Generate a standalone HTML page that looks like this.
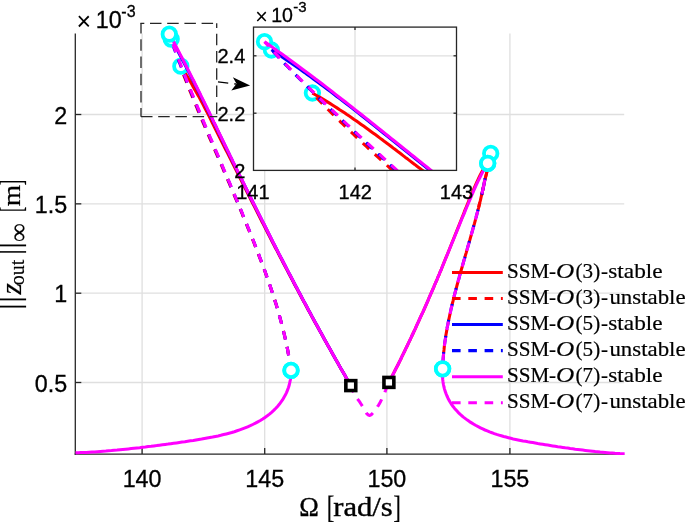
<!DOCTYPE html>
<html><head><meta charset="utf-8"><title>SSM forced response curve</title>
<style>html,body{margin:0;padding:0;background:#fff;}svg{display:block;}text{font-family:"Liberation Sans",sans-serif;fill:#000;}.tk{stroke:#000;stroke-width:0.3px;}.tx{font-family:"Liberation Serif",serif;fill:#000;stroke:#000;stroke-width:0.2px;}.tb{stroke-width:0.35px;}</style></head><body>
<svg width="685" height="522" viewBox="0 0 685 522">
<rect width="685" height="522" fill="#fff"/>
<g stroke="#dfdfdf" stroke-width="1.3" fill="none">
<line x1="142.1" y1="33.6" x2="142.1" y2="454.1"/>
<line x1="264.7" y1="33.6" x2="264.7" y2="454.1"/>
<line x1="386.9" y1="33.6" x2="386.9" y2="454.1"/>
<line x1="509.9" y1="33.6" x2="509.9" y2="454.1"/>
<line x1="75.3" y1="114.5" x2="624.2" y2="114.5"/>
<line x1="75.3" y1="203.85" x2="624.2" y2="203.85"/>
<line x1="75.3" y1="293.2" x2="624.2" y2="293.2"/>
<line x1="75.3" y1="382.5" x2="624.2" y2="382.5"/>
</g>
<g stroke="#262626" stroke-width="1.3" fill="none">
<line x1="75.3" y1="33.6" x2="75.3" y2="454.75"/><line x1="74.64999999999999" y1="454.1" x2="624.2" y2="454.1"/>
<line x1="142.1" y1="454.1" x2="142.1" y2="448.1"/>
<line x1="264.7" y1="454.1" x2="264.7" y2="448.1"/>
<line x1="386.9" y1="454.1" x2="386.9" y2="448.1"/>
<line x1="509.9" y1="454.1" x2="509.9" y2="448.1"/>
<line x1="75.3" y1="114.5" x2="81.3" y2="114.5"/>
<line x1="75.3" y1="203.85" x2="81.3" y2="203.85"/>
<line x1="75.3" y1="293.2" x2="81.3" y2="293.2"/>
<line x1="75.3" y1="382.5" x2="81.3" y2="382.5"/>
</g>
<clipPath id="cm"><rect x="75.3" y="19.6" width="549.9000000000001" height="435.3"/></clipPath>
<g clip-path="url(#cm)">
<polyline points="180.8,65.8 180.8,67.7 181.9,70.5 183.0,73.3 184.1,76.1 185.2,78.9 186.3,81.7 187.4,84.5 188.5,87.3 189.6,90.1 190.8,92.9 191.9,95.7 193.0,98.5 194.2,101.3 195.3,104.1 196.5,106.8 197.6,109.6 198.8,112.4 199.9,115.2 201.1,118.0 202.3,120.8 203.5,123.6 204.7,126.3 205.9,129.1 207.0,131.9 208.2,134.7 209.4,137.5 210.6,140.2 211.8,143.0 213.0,145.8 214.2,148.6 215.4,151.3 216.6,154.1 217.8,156.9 219.0,159.7 220.2,162.4 221.4,165.2 222.6,168.0 223.8,170.8 225.0,173.6 226.2,176.3 227.4,179.1 228.6,181.9 229.8,184.7 231.0,187.5 232.1,190.2 233.3,193.0 234.5,195.8 235.7,198.6 236.9,201.4 238.0,204.2 239.2,206.9 240.4,209.7 241.6,212.5 242.7,215.3 243.9,218.1 245.0,220.9 246.2,223.7 247.3,226.5 248.5,229.3 249.6,232.1 250.7,234.9 251.9,237.7 253.0,240.5 254.1,243.3 255.2,246.2 256.3,249.0 257.4,251.8 258.5,254.6 259.6,257.4 260.7,260.3 261.8,263.1 262.9,265.9 263.9,268.8 265.0,271.6 266.0,274.4 267.0,277.3 268.0,280.1 269.0,283.0 270.0,285.8 271.0,288.7 272.0,291.6 272.9,294.4 273.9,297.3 274.8,300.2 275.7,303.0 276.6,305.9 277.4,308.8 278.3,311.7 279.1,314.6 279.9,317.5 280.7,320.4 281.5,323.3 282.2,326.2 283.0,329.1 283.7,332.0 284.4,334.9 285.1,337.9 285.7,340.8 286.4,343.7 287.0,346.7 287.6,349.6 288.1,352.6 288.7,355.5 289.2,358.5 289.7,361.5 290.1,364.4 290.6,367.4 291.0,370.4" fill="none" stroke="#ff0000" stroke-width="3.05" stroke-linejoin="round" stroke-dasharray="8.6 7.6" stroke-dashoffset="6.85"/>
<polyline points="180.8,65.8 183.1,69.2 184.8,72.1 186.5,75.1 188.3,78.1 190.0,81.0 191.7,84.0 193.3,87.0 195.0,90.0 196.7,92.9 198.4,95.9 200.0,98.9 201.6,101.9 203.2,104.9 204.7,107.8 206.3,110.8 207.9,113.8 209.4,116.8 210.9,119.8 212.3,122.8 213.8,125.7 215.3,128.7 216.8,131.7 218.3,134.7 219.8,137.7 221.3,140.7 222.8,143.7 224.3,146.7 225.8,149.7 227.3,152.6 228.8,155.6 230.3,158.6 231.8,161.6 233.3,164.6 234.8,167.6 236.3,170.6 237.8,173.6 239.3,176.6 240.8,179.5 242.3,182.5 243.8,185.5 245.3,188.5 246.8,191.5 248.3,194.5 249.8,197.5 251.3,200.5 252.8,203.5 254.3,206.4 255.8,209.4 257.3,212.4 258.8,215.4 260.3,218.4 261.8,221.4 263.4,224.3 264.9,227.3 266.4,230.3 267.9,233.3 269.5,236.3 271.0,239.2 272.5,242.2 274.1,245.2 275.6,248.2 277.2,251.1 278.7,254.1 280.2,257.1 281.8,260.0 283.3,263.0 284.9,266.0 286.4,268.9 288.0,271.9 289.5,274.8 291.1,277.8 292.7,280.8 294.2,283.7 295.8,286.7 297.4,289.6 298.9,292.6 300.5,295.5 302.1,298.5 303.7,301.4 305.3,304.3 306.8,307.3 308.4,310.2 310.0,313.1 311.6,316.1 313.2,319.0 314.8,321.9 316.4,324.8 318.1,327.8 319.7,330.7 321.3,333.6 322.9,336.5 324.5,339.4 326.1,342.3 327.7,345.2 329.4,348.1 331.0,351.0 332.6,353.9 334.2,356.8 335.9,359.7 337.5,362.6 339.2,365.5 340.8,368.4 342.5,371.3 344.1,374.1 345.8,377.0 347.4,379.9 349.1,382.7 350.8,385.6" fill="none" stroke="#ff0000" stroke-width="3.05" stroke-linejoin="round"/>
<polyline points="388.9,382.4 390.1,380.0 391.4,377.7 392.6,375.3 393.8,372.9 395.0,370.5 396.2,368.1 397.5,365.7 398.7,363.3 399.9,360.9 401.1,358.5 402.2,356.0 403.4,353.6 404.6,351.2 405.8,348.7 407.0,346.3 408.1,343.9 409.3,341.4 410.5,339.0 411.6,336.5 412.8,334.0 413.9,331.6 415.1,329.1 416.2,326.6 417.3,324.2 418.5,321.7 419.6,319.2 420.7,316.7 421.8,314.3 423.0,311.8 424.1,309.3 425.2,306.8 426.3,304.3 427.4,301.8 428.5,299.3 429.5,296.8 430.6,294.3 431.7,291.8 432.8,289.3 433.9,286.8 434.9,284.3 436.0,281.8 437.1,279.3 438.1,276.8 439.2,274.3 440.2,271.8 441.3,269.3 442.3,266.8 443.3,264.3 444.3,261.7 445.3,259.2 446.4,256.7 447.4,254.2 448.4,251.7 449.4,249.2 450.4,246.7 451.4,244.2 452.4,241.7 453.4,239.2 454.4,236.7 455.4,234.2 456.4,231.8 457.4,229.3 458.4,226.8 459.4,224.3 460.4,221.8 461.4,219.3 462.4,216.8 463.4,214.4 464.3,211.9 465.3,209.4 466.3,207.0 467.3,204.5 468.3,202.0 469.3,199.6 470.4,197.1 471.4,194.7 472.4,192.3 473.4,189.8 474.5,187.4 475.6,184.9 476.7,182.5 477.8,180.1 478.9,177.7 480.1,175.3 481.3,172.9 482.6,170.5 488.0,160.5 490.7,153.4" fill="none" stroke="#ff0000" stroke-width="3.05" stroke-linejoin="round"/>
<polyline points="490.7,153.4 489.0,162.0 487.0,171.5 484.4,181.9 484.0,184.3 483.5,186.6 483.0,188.9 482.5,191.2 482.0,193.5 481.4,195.8 480.9,198.1 480.4,200.4 479.8,202.7 479.2,205.0 478.7,207.3" fill="none" stroke="#ff0000" stroke-width="3.05" stroke-linejoin="round"/>
<polyline points="490.7,153.4 489.0,162.0 487.0,171.5 484.4,181.9 484.0,184.3 483.5,186.6 483.0,188.9 482.5,191.2 482.0,193.5 481.4,195.8 480.9,198.1 480.4,200.4 479.8,202.7 479.2,205.0 478.7,207.3 478.1,209.6 477.5,211.9 476.9,214.2 476.3,216.5 475.7,218.8 475.1,221.1 474.5,223.4 473.8,225.7 473.2,227.9 472.6,230.2 471.9,232.5 471.3,234.8 470.6,237.1 470.0,239.4 469.3,241.7 468.7,243.9 468.0,246.2 467.4,248.5 466.7,250.8 466.1,253.1 465.4,255.3 464.8,257.6 464.1,259.9 463.5,262.2 462.8,264.5 462.2,266.8 461.5,269.0 460.9,271.3 460.2,273.6 459.6,275.9 459.0,278.2 458.3,280.5 457.7,282.8 457.1,285.0 456.5,287.3 455.9,289.6 455.3,291.9 454.7,294.2 454.1,296.5 453.5,298.8 453.0,301.1 452.4,303.4 451.9,305.7 451.3,308.0 450.8,310.3 450.3,312.6 449.8,314.9 449.3,317.2 448.8,319.6 448.3,321.9 447.9,324.2 447.4,326.5 447.0,328.8 446.6,331.2 446.2,333.5 445.8,335.8 445.5,338.2 445.1,340.5 444.8,342.8 444.5,345.2 444.2,347.5 444.0,349.9 443.7,352.2 443.5,354.6 443.3,356.9 443.1,359.3 442.9,361.7 442.8,364.0 442.7,366.4 442.6,368.8" fill="none" stroke="#ff0000" stroke-width="3.05" stroke-linejoin="round" stroke-dasharray="8.6 7.7" stroke-dashoffset="14.8"/>
<circle cx="291.0" cy="370.4" r="6.75" fill="#fff" stroke="#00ffff" stroke-width="3.8"/>
<circle cx="180.83" cy="66.2" r="6.75" fill="#fff" stroke="#00ffff" stroke-width="3.8"/>
<circle cx="490.7" cy="153.4" r="6.75" fill="#fff" stroke="#00ffff" stroke-width="3.8"/>
<circle cx="442.6" cy="368.8" r="6.75" fill="#fff" stroke="#00ffff" stroke-width="3.8"/>
<polyline points="170.9,38.8 171.8,42.2 172.9,45.1 173.9,47.9 175.0,50.7 176.0,53.6 177.1,56.4 178.1,59.2 179.2,62.0 180.3,64.8 181.4,67.7 182.5,70.5 183.6,73.3 184.7,76.1 185.8,78.9 186.9,81.7 188.0,84.5 189.1,87.3 190.3,90.1 191.4,92.9 192.5,95.7 193.7,98.5 194.8,101.3 196.0,104.1 197.1,106.8 198.3,109.6 199.4,112.4 200.6,115.2 201.8,118.0 202.9,120.8 204.1,123.6 205.3,126.3 206.5,129.1 207.6,131.9 208.8,134.7 210.0,137.5 211.2,140.2 212.4,143.0 213.6,145.8 214.7,148.6 215.9,151.3 217.1,154.1 218.3,156.9 219.5,159.7 220.7,162.4 221.9,165.2 223.1,168.0 224.2,170.8 225.4,173.6 226.6,176.3 227.8,179.1 229.0,181.9 230.2,184.7 231.3,187.5 232.5,190.2 233.7,193.0 234.9,195.8 236.1,198.6 237.2,201.4 238.4,204.2 239.6,206.9 240.7,209.7 241.9,212.5 243.0,215.3 244.2,218.1 245.3,220.9 246.5,223.7 247.6,226.5 248.8,229.3 249.9,232.1 251.0,234.9 252.1,237.7 253.3,240.5 254.4,243.3 255.5,246.2 256.6,249.0 257.7,251.8 258.8,254.6 259.8,257.4 260.9,260.3 262.0,263.1 263.0,265.9 264.1,268.8 265.1,271.6 266.1,274.4 267.1,277.3 268.1,280.1 269.1,283.0 270.1,285.8 271.1,288.7 272.0,291.6 273.0,294.4 273.9,297.3 274.8,300.2 275.7,303.0 276.6,305.9 277.4,308.8 278.3,311.7 279.1,314.6 279.9,317.5 280.7,320.4 281.5,323.3 282.2,326.2 283.0,329.1 283.7,332.0 284.4,334.9 285.1,337.9 285.7,340.8 286.4,343.7 287.0,346.7 287.6,349.6 288.1,352.6 288.7,355.5 289.2,358.5 289.7,361.5 290.1,364.4 290.6,367.4 291.0,370.4" fill="none" stroke="#0000ff" stroke-width="3.05" stroke-linejoin="round" stroke-dasharray="8.6 7.6" stroke-dashoffset="10.45"/>
<polyline points="170.9,38.8 173.1,42.5 174.7,45.5 176.3,48.4 177.9,51.4 179.5,54.4 181.1,57.3 182.7,60.3 184.2,63.2 185.8,66.2 187.3,69.2 188.8,72.1 190.3,75.1 191.8,78.1 193.3,81.0 194.8,84.0 196.3,87.0 197.8,90.0 199.3,92.9 200.7,95.9 202.2,98.9 203.7,101.9 205.2,104.9 206.6,107.8 208.1,110.8 209.6,113.8 211.0,116.8 212.5,119.8 213.9,122.8 215.4,125.7 216.8,128.7 218.3,131.7 219.7,134.7 221.2,137.7 222.6,140.7 224.1,143.7 225.5,146.7 227.0,149.7 228.5,152.6 229.9,155.6 231.4,158.6 232.8,161.6 234.3,164.6 235.8,167.6 237.2,170.6 238.7,173.6 240.2,176.6 241.7,179.5 243.1,182.5 244.6,185.5 246.1,188.5 247.6,191.5 249.1,194.5 250.5,197.5 252.0,200.5 253.5,203.5 255.0,206.4 256.5,209.4 258.0,212.4 259.5,215.4 261.0,218.4 262.5,221.4 264.0,224.3 265.5,227.3 267.0,230.3 268.5,233.3 270.0,236.3 271.5,239.2 273.0,242.2 274.6,245.2 276.1,248.2 277.6,251.1 279.1,254.1 280.7,257.1 282.2,260.0 283.7,263.0 285.3,266.0 286.8,268.9 288.3,271.9 289.9,274.8 291.4,277.8 293.0,280.8 294.5,283.7 296.1,286.7 297.7,289.6 299.2,292.6 300.8,295.5 302.3,298.5 303.9,301.4 305.5,304.3 307.1,307.3 308.6,310.2 310.2,313.1 311.8,316.1 313.4,319.0 315.0,321.9 316.6,324.8 318.2,327.8 319.8,330.7 321.4,333.6 323.0,336.5 324.6,339.4 326.2,342.3 327.8,345.2 329.4,348.1 331.1,351.0 332.7,353.9 334.3,356.8 335.9,359.7 337.6,362.6 339.2,365.5 340.9,368.4 342.5,371.3 344.2,374.1 345.8,377.0 347.5,379.9 349.1,382.7 350.8,385.6" fill="none" stroke="#0000ff" stroke-width="3.05" stroke-linejoin="round"/>
<polyline points="487.7,163.3 487.3,165.6 487.0,168.0 486.6,170.3 486.2,172.6 485.8,175.0 485.3,177.3 484.9,179.6 484.4,181.9 484.0,184.3 483.5,186.6 483.0,188.9 482.5,191.2 482.0,193.5 481.4,195.8 480.9,198.1 480.4,200.4 479.8,202.7" fill="none" stroke="#0000ff" stroke-width="3.05" stroke-linejoin="round" stroke-dasharray="0 15.3 16.6 200" stroke-dashoffset="0"/>
<polyline points="479.2,205.0 478.7,207.3 478.1,209.6 477.5,211.9 476.9,214.2 476.3,216.5 475.7,218.8 475.1,221.1 474.5,223.4 473.8,225.7 473.2,227.9 472.6,230.2 471.9,232.5 471.3,234.8 470.6,237.1 470.0,239.4 469.3,241.7 468.7,243.9 468.0,246.2 467.4,248.5 466.7,250.8 466.1,253.1 465.4,255.3 464.8,257.6 464.1,259.9 463.5,262.2 462.8,264.5 462.2,266.8 461.5,269.0 460.9,271.3 460.2,273.6 459.6,275.9 459.0,278.2 458.3,280.5 457.7,282.8 457.1,285.0 456.5,287.3 455.9,289.6 455.3,291.9 454.7,294.2 454.1,296.5 453.5,298.8 453.0,301.1 452.4,303.4 451.9,305.7 451.3,308.0 450.8,310.3 450.3,312.6 449.8,314.9 449.3,317.2 448.8,319.6 448.3,321.9 447.9,324.2 447.4,326.5 447.0,328.8 446.6,331.2 446.2,333.5 445.8,335.8 445.5,338.2 445.1,340.5 444.8,342.8 444.5,345.2 444.2,347.5 444.0,349.9 443.7,352.2 443.5,354.6 443.3,356.9 443.1,359.3 442.9,361.7 442.8,364.0 442.7,366.4 442.6,368.8" fill="none" stroke="#0000ff" stroke-width="3.05" stroke-linejoin="round" stroke-dasharray="8.6 7.7" stroke-dashoffset="11.5"/>
<circle cx="171.2" cy="39.1" r="6.75" fill="#fff" stroke="#00ffff" stroke-width="3.8"/>
<circle cx="487.7" cy="163.3" r="6.75" fill="#fff" stroke="#00ffff" stroke-width="3.8"/>
<polyline points="75.3,452.8 78.1,452.7 80.8,452.6 83.6,452.5 86.3,452.4 89.1,452.2 91.9,452.0 94.7,451.9 97.5,451.7 100.3,451.5 103.1,451.3 105.9,451.1 108.7,450.8 111.5,450.6 114.3,450.3 117.1,450.1 120.0,449.8 122.8,449.5 125.6,449.2 128.4,448.9 131.2,448.6 134.1,448.3 136.9,448.0 139.7,447.7 142.6,447.3 145.4,447.0 148.2,446.6 151.1,446.3 153.9,445.9 156.7,445.6 159.5,445.2 162.4,444.8 165.2,444.4 168.0,444.1 170.8,443.7 173.6,443.3 176.5,442.9 179.3,442.5 182.1,442.1 184.9,441.7 187.7,441.2 190.5,440.8 193.3,440.4 196.0,439.9 198.8,439.4 201.6,439.0 204.4,438.5 207.1,438.0 209.9,437.5 212.6,437.0 215.4,436.4 218.1,435.9 220.8,435.3 223.6,434.6 226.3,433.9 229.0,433.2 231.7,432.5 234.4,431.7 237.1,430.8 239.7,429.9 242.4,428.9 245.0,427.9 247.7,426.8 250.3,425.7 252.8,424.5 255.4,423.2 257.8,421.9 260.3,420.5 262.7,419.0 265.0,417.4 267.3,415.8 269.5,414.1 271.6,412.3 273.7,410.4 275.6,408.5 277.5,406.4 279.3,404.3 280.9,402.1 282.5,399.9 283.9,397.5 285.3,395.1 286.5,392.6 287.5,390.1 288.5,387.5 289.3,384.8 289.9,382.0 290.5,379.2 290.8,376.3 291.0,373.4 291.0,370.4" fill="none" stroke="#ff00ff" stroke-width="3.05" stroke-linejoin="round"/>
<polyline points="169.3,33.7 170.3,36.5 171.3,39.4 172.3,42.2 173.4,45.1 174.4,47.9 175.4,50.7 176.5,53.6 177.5,56.4 178.6,59.2 179.7,62.0 180.8,64.8 181.8,67.7 182.9,70.5 184.0,73.3 185.1,76.1 186.2,78.9 187.3,81.7 188.5,84.5 189.6,87.3 190.7,90.1 191.8,92.9 193.0,95.7 194.1,98.5 195.2,101.3 196.4,104.1 197.5,106.8 198.7,109.6 199.8,112.4 201.0,115.2 202.1,118.0 203.3,120.8 204.5,123.6 205.6,126.3 206.8,129.1 208.0,131.9 209.2,134.7 210.3,137.5 211.5,140.2 212.7,143.0 213.9,145.8 215.0,148.6 216.2,151.3 217.4,154.1 218.6,156.9 219.8,159.7 220.9,162.4 222.1,165.2 223.3,168.0 224.5,170.8 225.7,173.6 226.8,176.3 228.0,179.1 229.2,181.9 230.4,184.7 231.5,187.5 232.7,190.2 233.9,193.0 235.0,195.8 236.2,198.6 237.4,201.4 238.5,204.2 239.7,206.9 240.8,209.7 242.0,212.5 243.1,215.3 244.3,218.1 245.4,220.9 246.6,223.7 247.7,226.5 248.8,229.3 249.9,232.1 251.1,234.9 252.2,237.7 253.3,240.5 254.4,243.3 255.5,246.2 256.6,249.0 257.7,251.8 258.8,254.6 259.8,257.4 260.9,260.3 262.0,263.1 263.0,265.9 264.1,268.8 265.1,271.6 266.1,274.4 267.1,277.3 268.1,280.1 269.1,283.0 270.1,285.8 271.1,288.7 272.0,291.6 273.0,294.4 273.9,297.3 274.8,300.2 275.7,303.0 276.6,305.9 277.4,308.8 278.3,311.7 279.1,314.6 279.9,317.5 280.7,320.4 281.5,323.3 282.2,326.2 283.0,329.1 283.7,332.0 284.4,334.9 285.1,337.9 285.7,340.8 286.4,343.7 287.0,346.7 287.6,349.6 288.1,352.6 288.7,355.5 289.2,358.5 289.7,361.5 290.1,364.4 290.6,367.4 291.0,370.4" fill="none" stroke="#ff00ff" stroke-width="3.05" stroke-linejoin="round" stroke-dasharray="8.6 7.6" stroke-dashoffset="5.13"/>
<polyline points="169.3,33.7 170.9,36.6 172.4,39.6 174.0,42.5 175.6,45.5 177.1,48.4 178.7,51.4 180.2,54.4 181.7,57.3 183.3,60.3 184.8,63.2 186.3,66.2 187.8,69.2 189.3,72.1 190.8,75.1 192.3,78.1 193.8,81.0 195.2,84.0 196.7,87.0 198.2,90.0 199.7,92.9 201.1,95.9 202.6,98.9 204.1,101.9 205.5,104.9 207.0,107.8 208.4,110.8 209.9,113.8 211.3,116.8 212.8,119.8 214.2,122.8 215.7,125.7 217.1,128.7 218.5,131.7 220.0,134.7 221.4,137.7 222.9,140.7 224.3,143.7 225.8,146.7 227.2,149.7 228.7,152.6 230.1,155.6 231.6,158.6 233.0,161.6 234.5,164.6 235.9,167.6 237.4,170.6 238.9,173.6 240.3,176.6 241.8,179.5 243.3,182.5 244.7,185.5 246.2,188.5 247.7,191.5 249.2,194.5 250.6,197.5 252.1,200.5 253.6,203.5 255.1,206.4 256.6,209.4 258.1,212.4 259.6,215.4 261.1,218.4 262.6,221.4 264.1,224.3 265.6,227.3 267.1,230.3 268.6,233.3 270.1,236.3 271.6,239.2 273.1,242.2 274.6,245.2 276.1,248.2 277.6,251.1 279.2,254.1 280.7,257.1 282.2,260.0 283.8,263.0 285.3,266.0 286.8,268.9 288.4,271.9 289.9,274.8 291.5,277.8 293.0,280.8 294.6,283.7 296.1,286.7 297.7,289.6 299.2,292.6 300.8,295.5 302.3,298.5 303.9,301.4 305.5,304.3 307.1,307.3 308.6,310.2 310.2,313.1 311.8,316.1 313.4,319.0 315.0,321.9 316.6,324.8 318.2,327.8 319.8,330.7 321.4,333.6 323.0,336.5 324.6,339.4 326.2,342.3 327.8,345.2 329.4,348.1 331.1,351.0 332.7,353.9 334.3,356.8 335.9,359.7 337.6,362.6 339.2,365.5 340.9,368.4 342.5,371.3 344.2,374.1 345.8,377.0 347.5,379.9 349.1,382.7 350.8,385.6" fill="none" stroke="#ff00ff" stroke-width="3.05" stroke-linejoin="round"/>
<polyline points="350.8,385.6 351.4,387.4 352.1,389.1 352.7,390.7 353.4,392.1 354.1,393.4 354.8,394.7 355.5,395.9 356.3,397.0 357.0,398.1 357.8,399.3 358.6,400.4 359.4,401.5 360.2,402.7 361.0,404.0 361.9,405.4 362.8,406.9 363.7,408.4 364.6,410.1 365.5,411.6 366.4,413.1 367.4,414.2 368.4,415.0 369.3,415.4 370.3,415.2 371.3,414.6 372.3,413.6 373.2,412.6 374.2,411.4 375.1,410.3 376.0,409.0 376.9,407.7 377.7,406.4 378.6,405.1 379.4,403.7 380.2,402.3 380.9,400.9 381.7,399.4 382.4,398.0 383.0,396.5 383.7,395.0 384.3,393.6 384.9,392.1 385.5,390.6 386.0,389.2 386.6,387.8 387.2,386.4 387.7,385.0 388.3,383.7 388.9,382.4" fill="none" stroke="#ff00ff" stroke-width="3.05" stroke-linejoin="round" stroke-dasharray="8.6 7.7" stroke-dashoffset="1.25"/>
<polyline points="388.9,382.4 390.1,380.0 391.4,377.7 392.6,375.3 393.8,372.9 395.0,370.5 396.2,368.1 397.5,365.7 398.7,363.3 399.9,360.9 401.1,358.5 402.2,356.0 403.4,353.6 404.6,351.2 405.8,348.7 407.0,346.3 408.1,343.9 409.3,341.4 410.5,339.0 411.6,336.5 412.8,334.0 413.9,331.6 415.1,329.1 416.2,326.6 417.3,324.2 418.5,321.7 419.6,319.2 420.7,316.7 421.8,314.3 423.0,311.8 424.1,309.3 425.2,306.8 426.3,304.3 427.4,301.8 428.5,299.3 429.5,296.8 430.6,294.3 431.7,291.8 432.8,289.3 433.9,286.8 434.9,284.3 436.0,281.8 437.1,279.3 438.1,276.8 439.2,274.3 440.2,271.8 441.3,269.3 442.3,266.8 443.3,264.3 444.4,261.7 445.4,259.2 446.4,256.7 447.5,254.2 448.5,251.7 449.5,249.2 450.5,246.7 451.5,244.2 452.6,241.7 453.6,239.2 454.6,236.7 455.6,234.2 456.6,231.8 457.6,229.3 458.7,226.8 459.7,224.3 460.7,221.8 461.7,219.3 462.7,216.8 463.8,214.4 464.8,211.9 465.8,209.4 466.8,207.0 467.9,204.5 468.9,202.0 469.9,199.6 471.0,197.1 472.0,194.7 473.1,192.3 474.1,189.8 475.2,187.4 476.3,184.9 477.4,182.5 478.6,180.1 479.8,177.7 481.0,175.3 482.2,172.9 483.5,170.5 484.9,168.1 486.2,165.7 487.7,163.3" fill="none" stroke="#ff00ff" stroke-width="3.05" stroke-linejoin="round"/>
<polyline points="487.7,163.3 487.3,165.6 487.0,168.0 486.6,170.3 486.2,172.6 485.8,175.0 485.3,177.3 484.9,179.6 484.4,181.9 484.0,184.3 483.5,186.6 483.0,188.9 482.5,191.2 482.0,193.5 481.4,195.8 480.9,198.1 480.4,200.4 479.8,202.7" fill="none" stroke="#ff00ff" stroke-width="3.05" stroke-linejoin="round" stroke-dasharray="0 16.6 14.4 200" stroke-dashoffset="0"/>
<polyline points="479.2,205.0 478.7,207.3 478.1,209.6 477.5,211.9 476.9,214.2 476.3,216.5 475.7,218.8 475.1,221.1 474.5,223.4 473.8,225.7 473.2,227.9 472.6,230.2 471.9,232.5 471.3,234.8 470.6,237.1 470.0,239.4 469.3,241.7 468.7,243.9 468.0,246.2 467.4,248.5 466.7,250.8 466.1,253.1 465.4,255.3 464.8,257.6 464.1,259.9 463.5,262.2 462.8,264.5 462.2,266.8 461.5,269.0 460.9,271.3 460.2,273.6 459.6,275.9 459.0,278.2 458.3,280.5 457.7,282.8 457.1,285.0 456.5,287.3 455.9,289.6 455.3,291.9 454.7,294.2 454.1,296.5 453.5,298.8 453.0,301.1 452.4,303.4 451.9,305.7 451.3,308.0 450.8,310.3 450.3,312.6 449.8,314.9 449.3,317.2 448.8,319.6 448.3,321.9 447.9,324.2 447.4,326.5 447.0,328.8 446.6,331.2 446.2,333.5 445.8,335.8 445.5,338.2 445.1,340.5 444.8,342.8 444.5,345.2 444.2,347.5 444.0,349.9 443.7,352.2 443.5,354.6 443.3,356.9 443.1,359.3 442.9,361.7 442.8,364.0 442.7,366.4 442.6,368.8" fill="none" stroke="#ff00ff" stroke-width="3.05" stroke-linejoin="round" stroke-dasharray="8.6 7.7" stroke-dashoffset="9.9"/>
<polyline points="442.6,368.8 442.5,371.4 442.4,374.1 442.5,376.6 442.7,379.2 443.0,381.7 443.4,384.2 443.9,386.7 444.5,389.1 445.2,391.4 446.1,393.8 447.0,396.0 448.0,398.2 449.1,400.4 450.4,402.5 451.7,404.6 453.1,406.5 454.6,408.4 456.3,410.3 457.9,412.1 459.7,413.8 461.5,415.5 463.4,417.1 465.4,418.6 467.4,420.1 469.5,421.6 471.6,422.9 473.8,424.2 476.0,425.5 478.2,426.7 480.4,427.8 482.7,428.9 485.0,430.0 487.3,430.9 489.6,431.9 491.9,432.7 494.2,433.6 496.6,434.4 498.9,435.1 501.3,435.8 503.7,436.5 506.0,437.1 508.4,437.7 510.8,438.3 513.2,438.9 515.7,439.4 518.1,439.9 520.5,440.4 523.0,440.9 525.4,441.3 527.9,441.8 530.3,442.2 532.8,442.6 535.2,443.0 537.7,443.5 540.2,443.9 542.7,444.3 545.2,444.7 547.7,445.1 550.2,445.5 552.7,445.9 555.2,446.3 557.7,446.7 560.2,447.0 562.7,447.4 565.2,447.8 567.7,448.1 570.2,448.5 572.7,448.8 575.2,449.2 577.7,449.5 580.2,449.8 582.7,450.1 585.2,450.4 587.7,450.7 590.2,451.0 592.7,451.3 595.2,451.6 597.6,451.8 600.1,452.1 602.6,452.3 605.1,452.5 607.5,452.7 610.0,452.9 612.4,453.1 614.9,453.3 617.3,453.4 619.8,453.6 622.2,453.7 624.6,453.8" fill="none" stroke="#ff00ff" stroke-width="3.05" stroke-linejoin="round"/>
<circle cx="291.0" cy="370.4" r="6.75" fill="#fff" stroke="#00ffff" stroke-width="3.8"/>
<circle cx="169.3" cy="34.2" r="6.75" fill="#fff" stroke="#00ffff" stroke-width="3.8"/>
<circle cx="487.7" cy="163.3" r="6.75" fill="#fff" stroke="#00ffff" stroke-width="3.8"/>
<circle cx="442.6" cy="368.8" r="6.75" fill="#fff" stroke="#00ffff" stroke-width="3.8"/>
<rect x="345.85" y="380.65" width="9.9" height="9.9" fill="#fff" stroke="#000" stroke-width="3.6"/>
<rect x="383.95" y="377.45" width="9.9" height="9.9" fill="#fff" stroke="#000" stroke-width="3.6"/>
</g>
<text class="tk" x="142.1" y="486.7" font-size="23.3" text-anchor="middle">140</text>
<text class="tk" x="264.7" y="486.7" font-size="23.3" text-anchor="middle">145</text>
<text class="tk" x="386.9" y="486.7" font-size="23.3" text-anchor="middle">150</text>
<text class="tk" x="509.9" y="486.7" font-size="23.3" text-anchor="middle">155</text>
<text class="tk" x="67.1" y="123.5" font-size="23.3" text-anchor="end">2</text>
<text class="tk" x="67.1" y="212.8" font-size="23.3" text-anchor="end">1.5</text>
<text class="tk" x="67.1" y="302.2" font-size="23.3" text-anchor="end">1</text>
<text class="tk" x="67.1" y="391.5" font-size="23.3" text-anchor="end">0.5</text>
<text x="76.5" y="30.4" font-size="25">×</text><text class="tk" x="95.8" y="27.7" font-size="23.3">10</text><text class="tk" x="121.3" y="16.5" font-size="16">-3</text>
<text class="tx tb" y="515.7" font-size="27"><tspan x="299.2" textLength="19.6" lengthAdjust="spacingAndGlyphs">Ω</tspan><tspan x="333.2" textLength="59.6" lengthAdjust="spacingAndGlyphs">rad/s</tspan></text>
<text class="tx" transform="translate(326.8,517.9) scale(0.85,1.18)" font-size="27">[</text>
<text class="tx" transform="translate(393.3,517.9) scale(0.85,1.18)" font-size="27">]</text>
<text class="tx" transform="translate(20.40,309.56) rotate(-90)" font-size="28.6">|</text>
<text class="tx" transform="translate(20.40,302.36) rotate(-90)" font-size="28.6">|</text>
<text class="tx" transform="translate(20.60,294.60) rotate(-90)" font-size="29" font-style="italic">z</text>
<text class="tx" transform="translate(24.30,285.30) rotate(-90)" font-size="20">out</text>
<text class="tx" transform="translate(20.40,254.86) rotate(-90)" font-size="28.6">|</text>
<text class="tx" transform="translate(20.40,248.36) rotate(-90)" font-size="28.6">|</text>
<text class="tx" transform="translate(27.10,242.10) rotate(-90)" font-size="26.5">∞</text>
<text class="tx" transform="translate(22.30,212.00) rotate(-90) scale(0.62,1.2)" font-size="26">[</text>
<text class="tx" transform="translate(20.10,206.30) rotate(-90) scale(1.1,1)" font-size="25">m</text>
<text class="tx" transform="translate(22.30,185.20) rotate(-90) scale(0.62,1.2)" font-size="26">]</text>
<line x1="452" y1="272.4" x2="502.8" y2="272.4" stroke="#ff0000" stroke-width="3.05"/>
<text class="tx" y="277.6" font-size="22"><tspan x="507.0" textLength="42.3" lengthAdjust="spacingAndGlyphs">SSM</tspan><tspan x="549.0" textLength="7.0" lengthAdjust="spacingAndGlyphs">-</tspan><tspan x="556.0" font-style="italic" textLength="18.2" lengthAdjust="spacingAndGlyphs">O</tspan><tspan x="575.6" textLength="24.6" lengthAdjust="spacingAndGlyphs">(3)</tspan><tspan x="600.9" textLength="7.0" lengthAdjust="spacingAndGlyphs">-</tspan><tspan x="608.3" textLength="54.4" lengthAdjust="spacingAndGlyphs">stable</tspan></text>
<line x1="452" y1="298.45" x2="502.8" y2="298.45" stroke="#ff0000" stroke-width="3.05" stroke-dasharray="8.6 7.7"/>
<text class="tx" y="303.6" font-size="22"><tspan x="507.0" textLength="42.3" lengthAdjust="spacingAndGlyphs">SSM</tspan><tspan x="549.0" textLength="7.0" lengthAdjust="spacingAndGlyphs">-</tspan><tspan x="556.0" font-style="italic" textLength="18.2" lengthAdjust="spacingAndGlyphs">O</tspan><tspan x="575.6" textLength="24.6" lengthAdjust="spacingAndGlyphs">(3)</tspan><tspan x="600.9" textLength="7.0" lengthAdjust="spacingAndGlyphs">-</tspan><tspan x="609.4" textLength="76.2" lengthAdjust="spacingAndGlyphs">unstable</tspan></text>
<line x1="452" y1="324.5" x2="502.8" y2="324.5" stroke="#0000ff" stroke-width="3.05"/>
<text class="tx" y="329.7" font-size="22"><tspan x="507.0" textLength="42.3" lengthAdjust="spacingAndGlyphs">SSM</tspan><tspan x="549.0" textLength="7.0" lengthAdjust="spacingAndGlyphs">-</tspan><tspan x="556.0" font-style="italic" textLength="18.2" lengthAdjust="spacingAndGlyphs">O</tspan><tspan x="575.6" textLength="24.6" lengthAdjust="spacingAndGlyphs">(5)</tspan><tspan x="600.9" textLength="7.0" lengthAdjust="spacingAndGlyphs">-</tspan><tspan x="608.3" textLength="54.4" lengthAdjust="spacingAndGlyphs">stable</tspan></text>
<line x1="452" y1="350.6" x2="502.8" y2="350.6" stroke="#0000ff" stroke-width="3.05" stroke-dasharray="8.6 7.7"/>
<text class="tx" y="355.8" font-size="22"><tspan x="507.0" textLength="42.3" lengthAdjust="spacingAndGlyphs">SSM</tspan><tspan x="549.0" textLength="7.0" lengthAdjust="spacingAndGlyphs">-</tspan><tspan x="556.0" font-style="italic" textLength="18.2" lengthAdjust="spacingAndGlyphs">O</tspan><tspan x="575.6" textLength="24.6" lengthAdjust="spacingAndGlyphs">(5)</tspan><tspan x="600.9" textLength="7.0" lengthAdjust="spacingAndGlyphs">-</tspan><tspan x="609.4" textLength="76.2" lengthAdjust="spacingAndGlyphs">unstable</tspan></text>
<line x1="452" y1="376.65" x2="502.8" y2="376.65" stroke="#ff00ff" stroke-width="3.05"/>
<text class="tx" y="381.8" font-size="22"><tspan x="507.0" textLength="42.3" lengthAdjust="spacingAndGlyphs">SSM</tspan><tspan x="549.0" textLength="7.0" lengthAdjust="spacingAndGlyphs">-</tspan><tspan x="556.0" font-style="italic" textLength="18.2" lengthAdjust="spacingAndGlyphs">O</tspan><tspan x="575.6" textLength="24.6" lengthAdjust="spacingAndGlyphs">(7)</tspan><tspan x="600.9" textLength="7.0" lengthAdjust="spacingAndGlyphs">-</tspan><tspan x="608.3" textLength="54.4" lengthAdjust="spacingAndGlyphs">stable</tspan></text>
<line x1="452" y1="402.7" x2="502.8" y2="402.7" stroke="#ff00ff" stroke-width="3.05" stroke-dasharray="8.6 7.7"/>
<text class="tx" y="407.9" font-size="22"><tspan x="507.0" textLength="42.3" lengthAdjust="spacingAndGlyphs">SSM</tspan><tspan x="549.0" textLength="7.0" lengthAdjust="spacingAndGlyphs">-</tspan><tspan x="556.0" font-style="italic" textLength="18.2" lengthAdjust="spacingAndGlyphs">O</tspan><tspan x="575.6" textLength="24.6" lengthAdjust="spacingAndGlyphs">(7)</tspan><tspan x="600.9" textLength="7.0" lengthAdjust="spacingAndGlyphs">-</tspan><tspan x="609.4" textLength="76.2" lengthAdjust="spacingAndGlyphs">unstable</tspan></text>
<g fill="none" stroke="#262626" stroke-width="1.3" stroke-dasharray="11.5 5.7"><line x1="140.4" y1="23.3" x2="217.3" y2="23.3" stroke-dashoffset="7.6"/><line x1="141" y1="23.3" x2="141" y2="116.7" stroke-dashoffset="1.2"/><line x1="216.7" y1="23.3" x2="216.7" y2="116.7" stroke-dashoffset="6.7"/><line x1="140.4" y1="116.7" x2="217.3" y2="116.7" stroke-dashoffset="-0.6"/></g>
<line x1="218" y1="81.8" x2="236" y2="84" stroke="#000" stroke-width="1.3" stroke-dasharray="10.3 6"/>
<path d="M250.1,85.4 L232.9,77.3 L236.5,83.8 L231.3,90.4 Z" fill="#000"/>
<rect x="253.5" y="27.1" width="203.0" height="143.3" fill="#fff"/>
<g stroke="#dfdfdf" stroke-width="1.3"><line x1="355" y1="27.1" x2="355" y2="170.4"/><line x1="253.5" y1="55.8" x2="456.5" y2="55.8"/><line x1="253.5" y1="113.2" x2="456.5" y2="113.2"/></g>
<clipPath id="ci"><rect x="253.5" y="27.1" width="203.0" height="143.3"/></clipPath>
<g clip-path="url(#ci)">
<circle cx="312.4" cy="93.0" r="6.75" fill="#fff" stroke="#00ffff" stroke-width="3.8"/>
<circle cx="271.4" cy="50.0" r="6.75" fill="#fff" stroke="#00ffff" stroke-width="3.8"/>
<circle cx="264.5" cy="41.7" r="6.75" fill="#fff" stroke="#00ffff" stroke-width="3.8"/>
<polyline points="312.4,93.1 314.9,94.5 317.5,96.0 320.0,97.4 322.5,98.9 325.0,100.4 327.4,101.9 329.9,103.4 332.4,105.0 334.8,106.5 337.3,108.1 339.7,109.7 342.1,111.2 344.5,112.8 346.9,114.5 349.3,116.1 351.7,117.7 354.1,119.4 356.5,121.0 358.9,122.7 361.2,124.4 363.6,126.1 365.9,127.8 368.3,129.5 370.6,131.2 373.0,132.9 375.3,134.6 377.6,136.3 380.0,138.1 382.3,139.8 384.6,141.6 386.9,143.3 389.3,145.0 391.6,146.8 393.9,148.6 396.2,150.3 398.5,152.1 400.8,153.8 403.1,155.6 405.4,157.4 407.7,159.1 410.0,160.9 412.4,162.7 414.7,164.4 417.0,166.2 419.3,167.9 421.6,169.7 423.9,171.4 426.2,173.2 428.6,174.9 430.9,176.7 433.2,178.4 435.5,180.1 437.9,181.8 440.2,183.5 442.6,185.3 444.9,187.0 447.3,188.6 449.6,190.3 452.0,192.0" fill="none" stroke="#ff0000" stroke-width="3.05" stroke-linejoin="round"/>
<polyline points="312.4,93.1 314.0,94.9 315.7,96.6 317.3,98.4 319.0,100.1 320.7,101.9 322.3,103.6 324.0,105.3 325.7,107.0 327.3,108.8 329.0,110.5 330.7,112.2 332.4,113.9 334.1,115.6 335.8,117.3 337.5,119.0 339.3,120.6 341.0,122.3 342.7,124.0 344.4,125.7 346.2,127.3 347.9,129.0 349.6,130.7 351.4,132.3 353.1,134.0 354.8,135.6 356.6,137.3 358.3,138.9 360.1,140.6 361.9,142.2 363.6,143.9 365.4,145.5 367.1,147.1 368.9,148.8 370.7,150.4 372.4,152.0 374.2,153.7 376.0,155.3 377.7,156.9 379.5,158.5 381.3,160.2 383.1,161.8 384.8,163.4 386.6,165.0 388.4,166.7 390.2,168.3 391.9,169.9 393.7,171.5 395.5,173.1 397.3,174.8 399.1,176.4 400.8,178.0 402.6,179.6 404.4,181.2 406.2,182.9 407.9,184.5 409.7,186.1 411.5,187.7 413.2,189.4 415.0,191.0" fill="none" stroke="#ff0000" stroke-width="3.05" stroke-linejoin="round" stroke-dasharray="8.6 7.7" stroke-dashoffset="10.37"/>
<polyline points="271.4,49.8 274.7,52.0 278.1,54.2 281.4,56.5 284.7,58.7 288.0,61.0 291.3,63.2 294.6,65.5 297.9,67.8 301.1,70.1 304.4,72.4 307.6,74.8 310.9,77.1 314.1,79.5 317.3,81.8 320.6,84.2 323.8,86.6 327.0,89.0 330.2,91.4 333.4,93.8 336.5,96.2 339.7,98.6 342.9,101.1 346.1,103.5 349.2,105.9 352.4,108.4 355.5,110.9 358.7,113.3 361.8,115.8 365.0,118.3 368.1,120.7 371.2,123.2 374.4,125.7 377.5,128.2 380.6,130.7 383.7,133.2 386.9,135.7 390.0,138.2 393.1,140.7 396.2,143.2 399.3,145.7 402.4,148.3 405.6,150.8 408.7,153.3 411.8,155.8 414.9,158.3 418.0,160.8 421.1,163.3 424.2,165.8 427.3,168.4 430.5,170.9 433.6,173.4 436.7,175.9 439.8,178.4 442.9,180.9 446.1,183.4 449.2,185.9 452.3,188.3 455.5,190.8 458.6,193.3" fill="none" stroke="#0000ff" stroke-width="3.05" stroke-linejoin="round"/>
<polyline points="271.4,49.8 273.8,52.3 276.2,54.8 278.6,57.4 281.0,59.9 283.4,62.4 285.8,64.8 288.2,67.3 290.6,69.8 293.0,72.3 295.5,74.8 297.9,77.2 300.4,79.7 302.8,82.1 305.3,84.6 307.7,87.0 310.2,89.5 312.7,91.9 315.1,94.3 317.6,96.7 320.1,99.2 322.6,101.6 325.1,104.0 327.6,106.4 330.1,108.8 332.6,111.2 335.1,113.6 337.6,116.0 340.1,118.4 342.6,120.7 345.2,123.1 347.7,125.5 350.2,127.9 352.7,130.3 355.3,132.6 357.8,135.0 360.3,137.4 362.9,139.7 365.4,142.1 367.9,144.4 370.5,146.8 373.0,149.2 375.6,151.5 378.1,153.9 380.7,156.2 383.2,158.6 385.8,160.9 388.3,163.3 390.9,165.6 393.4,168.0 396.0,170.3 398.6,172.6 401.1,175.0 403.7,177.3 406.2,179.7 408.8,182.0 411.3,184.4 413.9,186.7 416.4,189.1 419.0,191.4" fill="none" stroke="#0000ff" stroke-width="3.05" stroke-linejoin="round" stroke-dasharray="8.6 7.7" stroke-dashoffset="14.0"/>
<polyline points="264.5,41.7 267.9,44.1 271.4,46.5 274.8,48.9 278.2,51.4 281.6,53.8 285.0,56.3 288.4,58.7 291.8,61.2 295.2,63.7 298.6,66.2 301.9,68.7 305.3,71.2 308.7,73.7 312.0,76.2 315.3,78.8 318.7,81.3 322.0,83.8 325.4,86.4 328.7,88.9 332.0,91.5 335.3,94.1 338.6,96.7 341.9,99.2 345.2,101.8 348.5,104.4 351.8,107.0 355.1,109.6 358.4,112.2 361.7,114.8 365.0,117.4 368.3,120.0 371.6,122.6 374.8,125.2 378.1,127.9 381.4,130.5 384.7,133.1 387.9,135.7 391.2,138.4 394.5,141.0 397.8,143.6 401.0,146.2 404.3,148.9 407.6,151.5 410.8,154.1 414.1,156.8 417.4,159.4 420.6,162.0 423.9,164.6 427.2,167.3 430.5,169.9 433.7,172.5 437.0,175.1 440.3,177.8 443.6,180.4 446.8,183.0 450.1,185.6 453.4,188.2 456.7,190.8 460.0,193.4" fill="none" stroke="#ff00ff" stroke-width="3.05" stroke-linejoin="round"/>
<polyline points="264.5,41.7 267.0,44.4 269.5,47.1 272.0,49.8 274.5,52.4 277.0,55.1 279.5,57.8 282.0,60.4 284.6,63.0 287.1,65.7 289.7,68.3 292.2,70.9 294.8,73.5 297.4,76.1 299.9,78.7 302.5,81.3 305.1,83.9 307.7,86.5 310.3,89.0 312.9,91.6 315.6,94.2 318.2,96.7 320.8,99.3 323.4,101.8 326.1,104.3 328.7,106.9 331.4,109.4 334.0,111.9 336.7,114.4 339.3,117.0 342.0,119.5 344.7,122.0 347.3,124.5 350.0,127.0 352.7,129.5 355.4,132.0 358.0,134.5 360.7,137.0 363.4,139.5 366.1,141.9 368.8,144.4 371.5,146.9 374.2,149.4 376.9,151.9 379.6,154.3 382.3,156.8 385.0,159.3 387.7,161.8 390.3,164.3 393.0,166.7 395.7,169.2 398.4,171.7 401.1,174.2 403.8,176.6 406.5,179.1 409.2,181.6 411.9,184.1 414.6,186.5 417.3,189.0 420.0,191.5" fill="none" stroke="#ff00ff" stroke-width="3.05" stroke-linejoin="round" stroke-dasharray="8.6 7.7" stroke-dashoffset="2.3"/>
</g>
<g stroke="#262626" stroke-width="1.3" fill="none"><rect x="253.5" y="27.1" width="203.0" height="143.3"/>
<line x1="355" y1="170.4" x2="355" y2="167.4"/><line x1="355" y1="27.1" x2="355" y2="30.1"/>
<line x1="253.5" y1="55.8" x2="256.5" y2="55.8"/><line x1="456.5" y1="55.8" x2="453.5" y2="55.8"/>
<line x1="253.5" y1="113.2" x2="256.5" y2="113.2"/><line x1="456.5" y1="113.2" x2="453.5" y2="113.2"/>
</g>
<text class="tk" x="252.9" y="199.3" font-size="20" text-anchor="middle">141</text>
<text class="tk" x="355.3" y="199.3" font-size="20" text-anchor="middle">142</text>
<text class="tk" x="456.5" y="199.3" font-size="20" text-anchor="middle">143</text>
<text class="tk" x="245.3" y="63.4" font-size="20" text-anchor="end">2.4</text>
<text class="tk" x="245.3" y="120.8" font-size="20" text-anchor="end">2.2</text>
<text class="tk" x="245.3" y="178.2" font-size="20" text-anchor="end">2</text>
<text x="255.2" y="24.3" font-size="21.5">×</text><text class="tk" x="271.2" y="21.9" font-size="19.6">10</text><text class="tk" x="293.2" y="12.4" font-size="15">-3</text>
</svg></body></html>
